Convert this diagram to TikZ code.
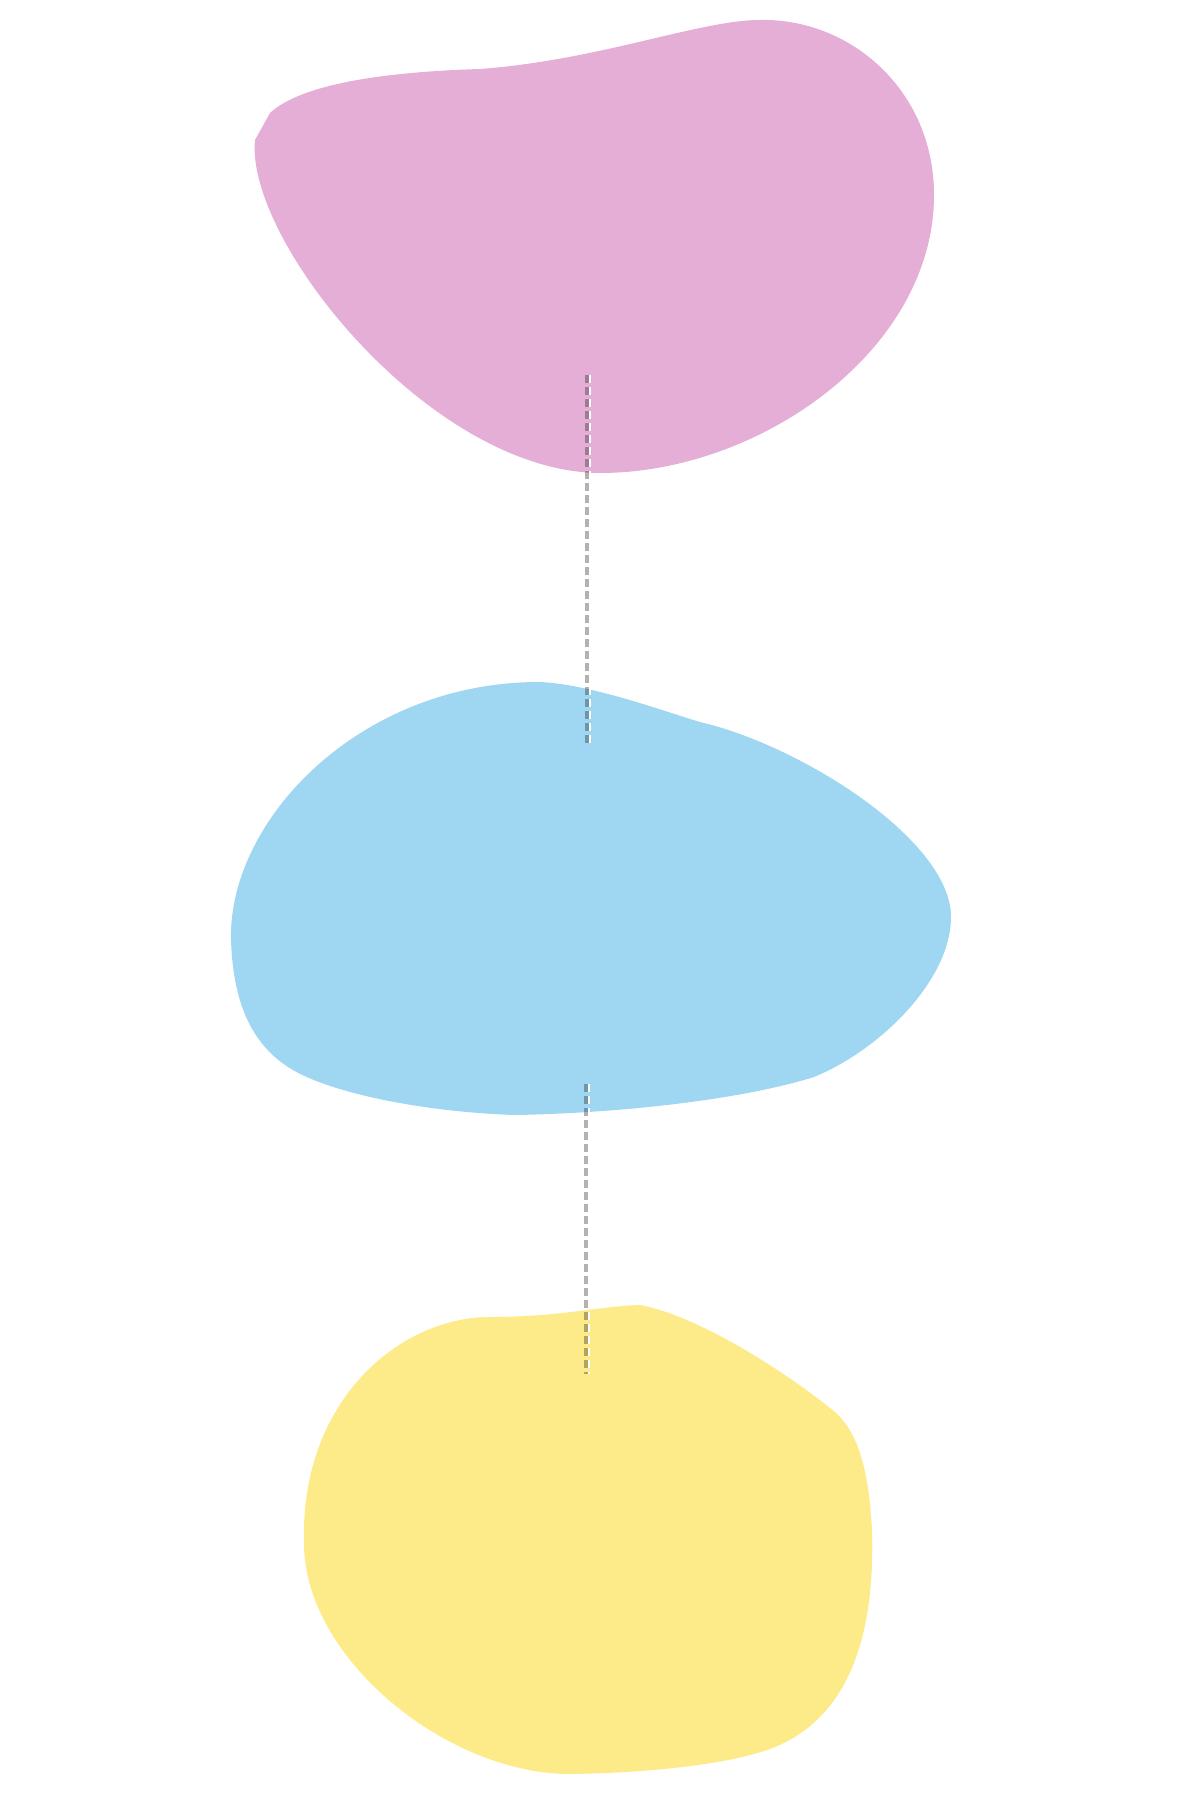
\documentclass[tikz,border=0pt]{standalone}
\begin{document}
\begin{tikzpicture}[x=0.5pt,y=-0.5pt,
  blob/.style={draw=none},
  link/.style={draw=black,draw opacity=0.3,line width=1.7pt,dash pattern=on 4pt off 2pt},
  linkhl/.style={draw=white,line width=1pt,dash pattern=on 4pt off 2pt}]
\useasboundingbox (0,0) rectangle (1200,1800);
\definecolor{pinkb}{HTML}{E4AED6}
\definecolor{blueb}{HTML}{9FD6F2}
\definecolor{yellowb}{HTML}{FDEB8A}
% pink blob
\fill[pinkb,blob] (270,113) -- (255,140)
  .. controls (245,240) and (430,472) .. (600,473)
  .. controls (760,473) and (934,350) .. (934,195)
  .. controls (934,90) and (850,18) .. (760,20)
  .. controls (700,20) and (600,60) .. (480,69)
  .. controls (380,72) and (300,85) .. (270,113) -- cycle;
% blue blob
\fill[blueb,blob] (539,682)
  .. controls (590,684) and (660,710) .. (700,722)
  .. controls (800,745) and (951,840) .. (951,917)
  .. controls (951,980) and (880,1050) .. (814,1077)
  .. controls (740,1100) and (620,1113) .. (516,1115)
  .. controls (420,1112) and (330,1092) .. (293,1070)
  .. controls (250,1045) and (233,1000) .. (231,940)
  .. controls (228,820) and (360,682) .. (539,682) -- cycle;
% yellow blob
\fill[yellowb,blob] (640,1305)
  .. controls (700,1316) and (790,1375) .. (835,1412)
  .. controls (862,1436) and (869,1480) .. (872,1530)
  .. controls (876,1660) and (835,1735) .. (750,1755)
  .. controls (700,1768) and (630,1773) .. (573,1774)
  .. controls (450,1776) and (304,1660) .. (304,1543)
  .. controls (300,1400) and (400,1317) .. (490,1317)
  .. controls (560,1317) and (600,1306) .. (640,1305) -- cycle;
% connectors
\coordinate (a1) at (587,375);
\coordinate (a2) at (587,745);
\coordinate (b1) at (586,1084);
\coordinate (b2) at (586,1374);
\draw[link] (a1) -- (a2);
\draw[linkhl] ([xshift=1.5pt]a1) -- ([xshift=1.5pt]a2);
\draw[link] (b1) -- (b2);
\draw[linkhl] ([xshift=1.5pt]b1) -- ([xshift=1.5pt]b2);
\end{tikzpicture}
\end{document}
